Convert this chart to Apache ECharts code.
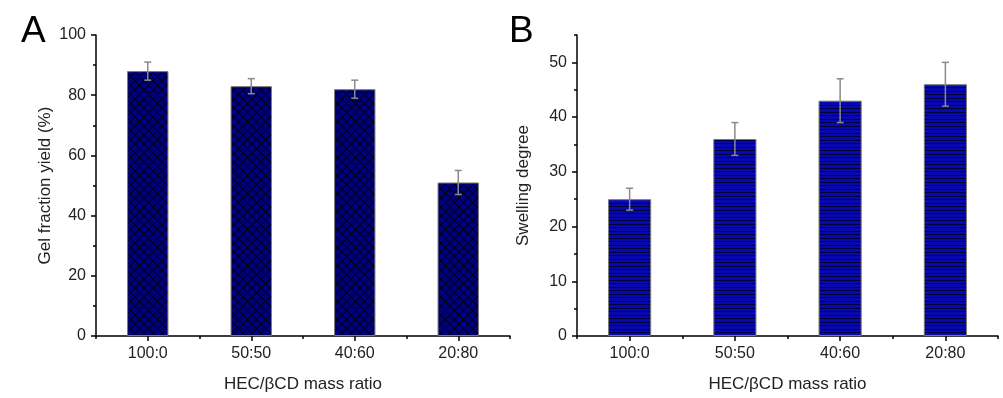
<!DOCTYPE html>
<html>
<head>
<meta charset="utf-8">
<script src="https://cdn.jsdelivr.net/npm/echarts@6/dist/echarts.min.js"></script>
<style>
  html, body { margin: 0; padding: 0; background: #fff; }
  #chart { width: 1003px; height: 398px; }
</style>
</head>
<body>
<div id="chart"></div>
<script>
const ratios = ['100:0', '50:50', '40:60', '20:80'];

const gelYield = [88, 83, 82, 51];
const gelErr = [3, 2.5, 3, 4];

const swelling = [25, 36, 43, 46];
const swellErr = [2, 3, 4, 4];

const yTicksA = [0, 20, 40, 60, 80, 100];
const yMinorA = [10, 30, 50, 70, 90];
const yTicksB = [0, 10, 20, 30, 40, 50];
const yMinorB = [5, 15, 25, 35, 45, 55];

const FONT = '"Liberation Sans", Arial, sans-serif';
const TXT = '#222';

// bar fill patterns
function crossHatch() {
  const n = 9;
  const c = document.createElement('canvas');
  c.width = n; c.height = n;
  const g = c.getContext('2d');
  g.fillStyle = '#000080';
  g.fillRect(0, 0, n, n);
  g.strokeStyle = '#000018';
  g.lineWidth = 1.1;
  g.beginPath();
  for (let k = -1; k <= 1; k++) {
    g.moveTo(k * n, 0); g.lineTo(k * n + n, n);
    g.moveTo(k * n + n, 0); g.lineTo(k * n, n);
  }
  g.stroke();
  return c.toDataURL();
}
function hStripes() {
  const c = document.createElement('canvas');
  c.width = 4; c.height = 7;
  const g = c.getContext('2d');
  g.fillStyle = '#0808b0';
  g.fillRect(0, 0, 4, 7);
  g.fillStyle = '#00003a';
  g.fillRect(0, 0, 4, 1);
  g.fillRect(0, 3, 4, 1);
  return c;
}

function errorSeries(values, errs, xIdx, yIdx) {
  return {
    type: 'custom',
    xAxisIndex: xIdx,
    yAxisIndex: yIdx,
    z: 5,
    data: values.map((v, i) => [i, v - errs[i], v + errs[i]]),
    renderItem: function (params, api) {
      const lo = api.coord([api.value(0), api.value(1)]);
      const hi = api.coord([api.value(0), api.value(2)]);
      const w = 3.5;
      const st = { stroke: '#8a8a8a', lineWidth: 1.5 };
      return {
        type: 'group',
        children: [
          { type: 'line', shape: { x1: hi[0], y1: hi[1], x2: lo[0], y2: lo[1] }, style: st },
          { type: 'line', shape: { x1: hi[0] - w, y1: hi[1], x2: hi[0] + w, y2: hi[1] }, style: st },
          { type: 'line', shape: { x1: lo[0] - w, y1: lo[1], x2: lo[0] + w, y2: lo[1] }, style: st }
        ]
      };
    }
  };
}

function catAxis(grid, main) {
  return {
    type: 'category',
    gridIndex: grid,
    position: 'bottom',
    data: ratios,
    boundaryGap: true,
    axisLine: { show: main, lineStyle: { color: '#000', width: 1.5 } },
    axisTick: main
      ? { show: true, alignWithLabel: true, length: 5, lineStyle: { color: '#000', width: 1.5 } }
      : { show: true, alignWithLabel: false, length: 3, lineStyle: { color: '#000', width: 1.5 } },
    axisLabel: { show: main, color: TXT, fontFamily: FONT, fontSize: 16, margin: 10 },
    name: main ? 'HEC/\u03b2CD mass ratio' : '',
    nameLocation: 'middle',
    nameGap: 40,
    nameTextStyle: { color: TXT, fontFamily: FONT, fontSize: 17 },
    splitLine: { show: false }
  };
}

function valAxis(grid, max, ticks, minor, title, gap, main) {
  return {
    type: 'value',
    gridIndex: grid,
    position: 'left',
    min: 0,
    max: max,
    interval: 5,
    axisLine: { show: main, onZero: false, lineStyle: { color: '#000', width: 1.5 } },
    axisTick: {
      show: true,
      customValues: main ? ticks : minor,
      length: main ? 5 : 3,
      lineStyle: { color: '#000', width: 1.5 }
    },
    axisLabel: {
      show: main,
      customValues: ticks,
      color: TXT, fontFamily: FONT, fontSize: 16, margin: 10
    },
    name: main ? title : '',
    nameLocation: 'middle',
    nameGap: gap,
    nameTextStyle: { color: TXT, fontFamily: FONT, fontSize: 17 },
    splitLine: { show: false }
  };
}

const chart = echarts.init(document.getElementById('chart'));

chart.setOption({
  animation: false,
  backgroundColor: '#fff',
  title: [
    { text: 'A', left: 16, top: 8, textStyle: { fontFamily: FONT, fontSize: 37, fontWeight: 'normal', color: '#000' } },
    { text: 'B', left: 504, top: 8, textStyle: { fontFamily: FONT, fontSize: 37, fontWeight: 'normal', color: '#000' } }
  ],
  grid: [
    { left: 96, right: 493, top: 35, bottom: 59 },
    { left: 577, right: 5, top: 35, bottom: 54 }
  ],
  xAxis: [
    catAxis(0, true),
    catAxis(0, false),
    catAxis(1, true),
    catAxis(1, false)
  ],
  yAxis: [
    valAxis(0, 100, yTicksA, yMinorA, 'Gel fraction yield (%)', 42, true),
    valAxis(0, 100, yTicksA, yMinorA, '', 42, false),
    valAxis(1, 55, yTicksB, yMinorB, 'Swelling degree', 45, true),
    valAxis(1, 55, yTicksB, yMinorB, '', 45, false)
  ],
  series: [
    {
      type: 'bar',
      xAxisIndex: 0, yAxisIndex: 0,
      data: gelYield,
      barWidth: '40%',
      itemStyle: { color: { image: crossHatch(), repeat: 'repeat' }, borderColor: '#7a7a7a', borderWidth: 1 }
    },
    errorSeries(gelYield, gelErr, 0, 0),
    {
      type: 'bar',
      xAxisIndex: 2, yAxisIndex: 2,
      data: swelling,
      barWidth: '41%',
      itemStyle: { color: { image: hStripes(), repeat: 'repeat' }, borderColor: '#7a7a7a', borderWidth: 1 }
    },
    errorSeries(swelling, swellErr, 2, 2)
  ]
});
</script>
</body>
</html>
